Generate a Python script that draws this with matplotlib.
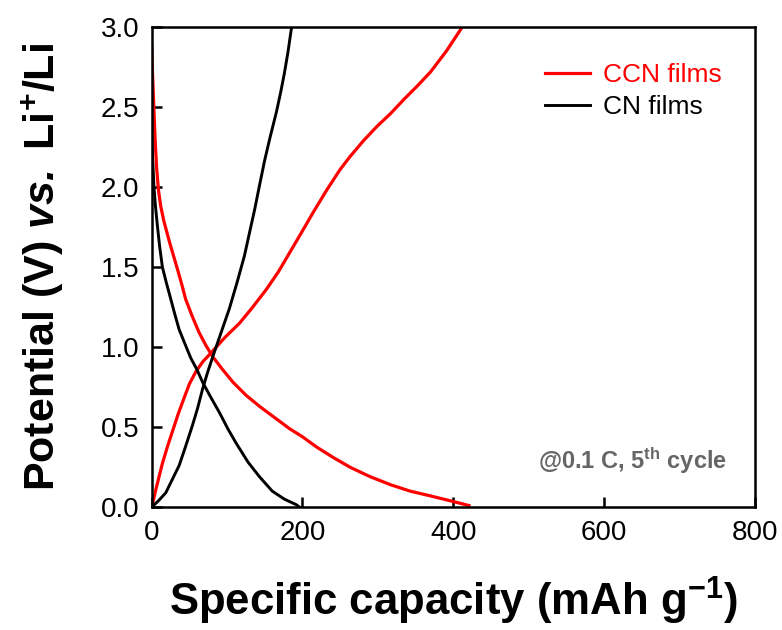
import matplotlib
matplotlib.use("Agg")
import matplotlib.pyplot as plt

plt.rcParams['font.family'] = ['Liberation Sans', 'DejaVu Sans']
plt.rcParams['mathtext.fontset'] = 'custom'
plt.rcParams['mathtext.rm'] = 'Liberation Sans'
plt.rcParams['mathtext.it'] = 'Liberation Sans:italic'
plt.rcParams['mathtext.bf'] = 'Liberation Sans:bold'
plt.rcParams['mathtext.bfit'] = 'Liberation Sans:italic:bold'

# CCN films, charge (rising) and discharge (falling)
ccn_chg_cap = [0, 6, 14, 21, 28, 35, 42, 50, 59, 68, 79, 97, 116.6, 134, 152, 168, 183, 198, 214,
               232, 250, 263, 281, 299, 317, 335, 352, 370, 391, 412]
ccn_chg_v = [0.0, 0.12, 0.27, 0.38, 0.48, 0.58, 0.67, 0.77, 0.85, 0.91, 0.965, 1.06, 1.15, 1.25, 1.36,
             1.47, 1.59, 1.71, 1.84, 1.98, 2.11, 2.19, 2.29, 2.38, 2.46, 2.55, 2.63, 2.72, 2.85, 3.0]
ccn_dis_cap = [0, 1, 2, 3, 4.5, 6.5, 9, 12, 16, 20, 24, 29, 34, 40, 45, 54, 63, 72, 81, 94, 108, 125,
               143, 163, 183, 200, 219, 241, 263, 290, 317, 343, 370, 396, 421]
ccn_dis_v = [2.88, 2.72, 2.6, 2.48, 2.3, 2.12, 1.98, 1.88, 1.79, 1.72, 1.65, 1.57, 1.49, 1.39, 1.30,
             1.19, 1.09, 1.01, 0.94, 0.86, 0.78, 0.70, 0.63, 0.56, 0.49, 0.44, 0.375, 0.31, 0.25, 0.19,
             0.14, 0.10, 0.07, 0.04, 0.01]

# CN films
cn_chg_cap = [0, 9, 18.7, 27, 36.4, 45, 54, 61, 67.6, 74, 81, 92, 103, 113, 123, 130, 136.6,
              143, 150, 157, 165.5, 171, 176, 181, 185.6]
cn_chg_v = [0.0, 0.04, 0.09, 0.17, 0.26, 0.38, 0.51, 0.62, 0.74, 0.84, 0.94, 1.09, 1.24, 1.40, 1.57,
            1.72, 1.86, 2.01, 2.17, 2.31, 2.47, 2.59, 2.71, 2.85, 3.0]
cn_dis_cap = [0, 1, 3, 5, 7.5, 10.5, 14.2, 19, 25.3, 31, 36.4, 45, 52, 60, 67.6, 78, 90, 101,
              112, 128, 143, 160, 176, 192, 196]
cn_dis_v = [2.35, 2.2, 2.0, 1.88, 1.76, 1.63, 1.50, 1.41, 1.30, 1.20, 1.11, 1.01, 0.93, 0.86, 0.78,
            0.69, 0.59, 0.49, 0.40, 0.28, 0.19, 0.10, 0.05, 0.015, 0.0]

fig = plt.figure(figsize=(7.82, 6.3), dpi=100)
ax = fig.add_axes([0.194, 0.195, 0.771, 0.762])

ax.plot(ccn_chg_cap, ccn_chg_v, color='red', lw=2.3, label='CCN films')
ax.plot(ccn_dis_cap, ccn_dis_v, color='red', lw=2.3)
ax.plot(cn_chg_cap, cn_chg_v, color='black', lw=2.1, label='CN films')
ax.plot(cn_dis_cap, cn_dis_v, color='black', lw=2.1)

ax.set_xlim(0, 800)
ax.set_ylim(0, 3.0)
ax.set_xticks([0, 200, 400, 600, 800])
ax.set_yticks([0.0, 0.5, 1.0, 1.5, 2.0, 2.5, 3.0])
ax.set_yticklabels(['0.0', '0.5', '1.0', '1.5', '2.0', '2.5', '3.0'])
ax.tick_params(direction='in', length=7, width=1.8, labelsize=20, pad=9)
for s in ax.spines.values():
    s.set_linewidth(1.8)

ax.set_xlabel(r'Specific capacity (mAh g$^{\mathbf{-1}}$)', fontsize=31.5, fontweight='bold', labelpad=21)
ax.set_ylabel(r'Potential (V) $\mathbfit{vs.}$ Li$^{\mathbf{+}}$/Li', fontsize=31, fontweight='bold', labelpad=25)

leg = ax.legend(loc='upper right', frameon=False, fontsize=19, handlelength=1.7, handletextpad=0.5,
                bbox_to_anchor=(0.985, 0.975), labelspacing=0.3)
for txt, c in zip(leg.get_texts(), ['red', 'black']):
    txt.set_color(c)

ax.text(0.955, 0.097, r'@0.1 C, 5$^{\mathbf{th}}$ cycle', transform=ax.transAxes,
        ha='right', va='center', fontsize=17, fontweight='bold', color='#666666')

fig.savefig('out.png', dpi=100)
